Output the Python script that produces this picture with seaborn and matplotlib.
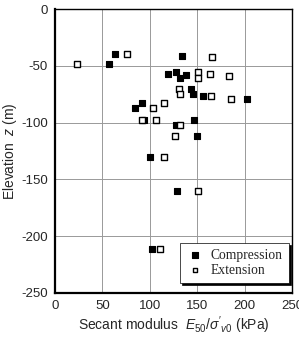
import matplotlib
matplotlib.use('Agg')
import matplotlib.pyplot as plt
import pandas as pd
import seaborn as sns

# compression (filled squares)
comp_x = [63, 57, 84, 92, 94, 100, 134, 119, 128, 132, 138, 143, 145, 156, 202, 147, 128, 150, 129, 102]
comp_z = [-40, -48, -87, -83, -98, -130, -41, -57, -55, -61, -58, -70, -75, -77, -79, -98, -102, -112, -160, -211]

# extension (open squares)
ext_x = [23, 76, 92, 103, 107, 115, 115, 165, 151, 151, 163, 183, 131, 132, 164, 186, 132, 127, 151, 111]
ext_z = [-48, -40, -98, -87, -98, -83, -130, -42, -55, -61, -57, -59, -70, -75, -77, -79, -102, -112, -160, -211]

xticks = [0, 50, 100, 150, 200, 250]
yticks = [0, -50, -100, -150, -200, -250]

sns.set_style('white')
plt.rcParams['font.family'] = ['Liberation Sans', 'DejaVu Sans']
plt.rcParams['mathtext.fontset'] = 'custom'
plt.rcParams['mathtext.rm'] = 'Liberation Sans'
plt.rcParams['mathtext.it'] = 'Liberation Sans:italic'
plt.rcParams['axes.unicode_minus'] = False

comp = pd.DataFrame({'x': comp_x, 'z': comp_z})
ext = pd.DataFrame({'x': ext_x, 'z': ext_z})

fig = plt.figure(figsize=(2.99, 3.37), dpi=100)
ax = fig.add_axes([0.184, 0.131, 0.793, 0.842])

sns.scatterplot(data=comp, x='x', y='z', marker='s', s=24, color='black',
                edgecolor='black', linewidth=0.8, label='Compression', ax=ax, zorder=3)
sns.scatterplot(data=ext, x='x', y='z', marker='s', s=20, facecolor='white',
                edgecolor='black', linewidth=1.0, label='Extension', ax=ax, zorder=3)

ax.set_xlim(0, 250)
ax.set_ylim(-250, 0)
ax.set_xticks(xticks)
ax.set_yticks(yticks)
ax.grid(True, color='#999999', linewidth=0.7)
ax.tick_params(length=0, labelsize=9.5, pad=5)
for side in ['left', 'bottom']:
    ax.spines[side].set_linewidth(1.6)
for side in ['top', 'right']:
    ax.spines[side].set_linewidth(1.0)
for sp in ax.spines.values():
    sp.set_color('black')

ax.set_xlabel(r"Secant modulus  $E_{50}/\sigma'_{v0}$ (kPa)", fontsize=10, labelpad=2)
ax.set_ylabel(r"Elevation  $z$ (m)", fontsize=10, labelpad=1.5)

leg = ax.legend(loc='lower right', frameon=True, fancybox=False,
                shadow={'color': 'black', 'alpha': 1, 'ox': 1.5, 'oy': -1.5},
                prop={'family': 'Liberation Serif', 'size': 9.8},
                handletextpad=0.4, handlelength=1.4, borderpad=0.45, labelspacing=0.15,
                borderaxespad=0, bbox_to_anchor=(0.985, 0.035), markerscale=0.8)
leg.get_frame().set_edgecolor('black')
leg.get_frame().set_linewidth(0.5)

fig.savefig('out.png', dpi=100)
